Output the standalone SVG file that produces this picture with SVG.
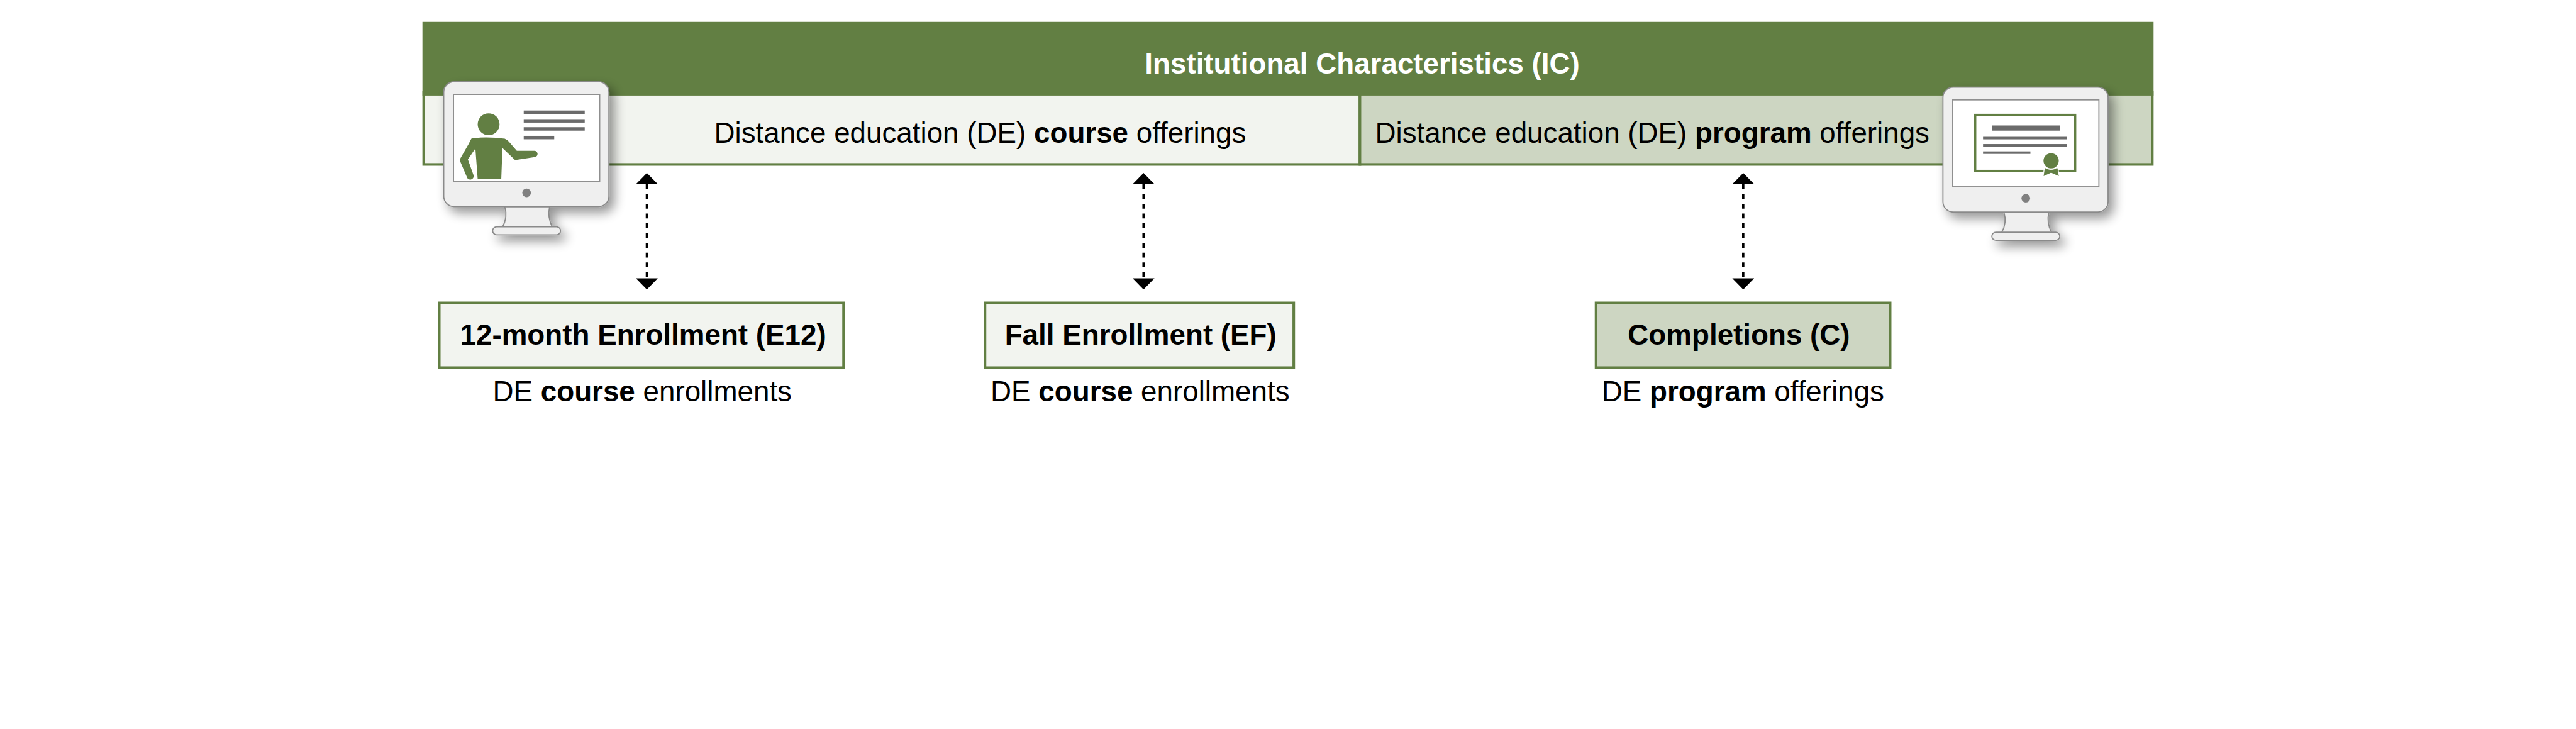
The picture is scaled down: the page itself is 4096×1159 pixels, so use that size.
<svg xmlns="http://www.w3.org/2000/svg" width="4096" height="1159" viewBox="0 0 4096 1159">
<style>
text{font-family:"Liberation Sans",Arial,sans-serif;fill:#000;text-anchor:middle}
.b{font-weight:700}
.t{font-size:50px}
.hd{font-weight:700;font-size:50px;fill:#fff}
.light{fill:#f2f4ef}
.mid{fill:#cdd6c2}
.box{stroke:#627f43;stroke-width:4.5}
.arrow{stroke:#000;stroke-width:4;stroke-dasharray:8.5 8.5;fill:none;marker-start:url(#ah);marker-end:url(#ah)}
.mon{fill:#efefef;stroke:#8a8a8a;stroke-width:2}
.scr{fill:#fff;stroke:#8f8f8f;stroke-width:2}
.g{fill:#627f43}
.d{fill:#6b6b6b}
</style>
<defs>
<filter id="sh" x="-20%" y="-20%" width="150%" height="150%"><feGaussianBlur in="SourceAlpha" stdDeviation="10"/><feOffset dx="9" dy="10"/><feComponentTransfer><feFuncA type="linear" slope="0.42"/></feComponentTransfer><feMerge><feMergeNode/><feMergeNode in="SourceGraphic"/></feMerge></filter>
<g id="monitor" filter="url(#sh)">
<path class="mon" d="M877 359C881 372 879 384 873 395H960C954 384 952 372 955 359Z"/>
<rect class="mon" x="856" y="394" width="118" height="14" rx="7"/>
<rect class="mon" x="771" y="142" width="287" height="217" rx="18"/>
<rect class="scr" x="788" y="164" width="254" height="151"/>
<circle cx="915" cy="335" r="7.500" fill="#808080"/>
</g>
<marker id="ah" viewBox="0 0 19.500 38" refX="0" refY="19" markerWidth="19.500" markerHeight="38" markerUnits="userSpaceOnUse" orient="auto-start-reverse"><path d="M0 0L19.500 19L0 38Z"/></marker>
</defs>
<rect width="4096" height="1159" fill="#fff"/>
<g transform="scale(0.9151)">
<g id="de-course">
<rect class="light box" x="736.200" y="160" width="1626.800" height="125.700"/>
<text class="t" x="1703" y="248">Distance education (DE) <tspan class="b">course</tspan> offerings</text>
</g>
<g id="de-program">
<rect class="mid box" x="2363" y="160" width="1376.800" height="125.700"/>
<text class="t" x="2871" y="248">Distance education (DE) <tspan class="b">program</tspan> offerings</text>
</g>
<g id="ic">
<rect class="g" x="734" y="38" width="3008" height="128"/>
<text class="hd" x="2367" y="128">Institutional Characteristics (IC)</text>
</g>
<g id="connectors">
<path class="arrow" d="M1124 320V483.500"/>
<path class="arrow" d="M1987 320V483.500"/>
<path class="arrow" d="M3029 320V483.500"/>
</g>
<g id="monitor-course">
<use href="#monitor"/>
<circle class="g" cx="849" cy="216" r="19"/>
<path class="g" d="M820 240Q849 237 877 241Q882 243 885 247L898 262L928 262A5.500 5.500 0 0 1 929 273L895 278L873 257L871 311H830L826 258L813 277L823 305A6 6 0 0 1 811 307L799 279Q799 277 800 275L815 249Q818 242 820 240Z"/>
<rect class="d" x="910" y="192" width="106" height="6"/>
<rect class="d" x="910" y="207" width="106" height="6"/>
<rect class="d" x="910" y="221" width="106" height="6"/>
<rect class="d" x="910" y="236" width="53" height="6"/>
</g>
<g id="monitor-program">
<use href="#monitor" transform="translate(2605 9.500)"/>
<rect x="3432" y="199.700" width="173.700" height="97.300" fill="#fff" stroke="#627f43" stroke-width="4"/>
<rect class="d" x="3461.300" y="218" width="117.700" height="9"/>
<rect class="d" x="3445.700" y="237.700" width="146" height="4.400"/>
<rect class="d" x="3445.700" y="250.300" width="146" height="4.400"/>
<rect class="d" x="3445.700" y="263" width="82.300" height="4.400"/>
<path class="g" d="M3552.300 291.700L3550 307.300L3564 300.700L3578.300 307.300L3575.700 291.700Z" stroke="#fff" stroke-width="1.500"/>
<circle cx="3564" cy="279.300" r="14.500" fill="#627f43" stroke="#fff" stroke-width="2.500"/>
</g>
<g id="e12">
<rect class="light box" x="763.250" y="526.250" width="702.500" height="112.500"/>
<text class="t b" x="1117.500" y="598.500">12-month Enrollment (E12)</text>
<text class="t" x="1116" y="697">DE <tspan class="b">course</tspan> enrollments</text>
</g>
<g id="ef">
<rect class="light box" x="1711.500" y="526.250" width="536.500" height="112.500"/>
<text class="t b" x="1982" y="598.500">Fall Enrollment (EF)</text>
<text class="t" x="1981" y="697">DE <tspan class="b">course</tspan> enrollments</text>
</g>
<g id="c">
<rect class="mid box" x="2773.250" y="526.250" width="511" height="112.500"/>
<text class="t b" x="3021.500" y="598.500">Completions (C)</text>
<text class="t" x="3028.500" y="697">DE <tspan class="b">program</tspan> offerings</text>
</g>
</g>
</svg>
